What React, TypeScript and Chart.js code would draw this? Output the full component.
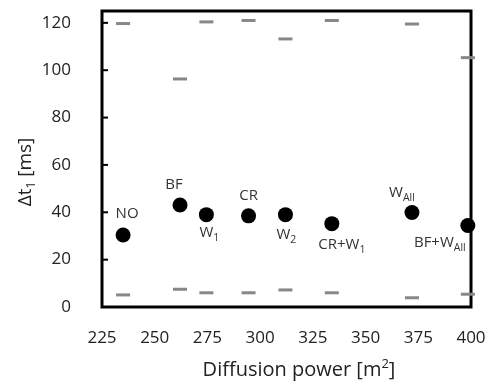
import React, { useEffect, useRef } from 'react';
import { Chart, registerables } from 'chart.js';

Chart.register(...registerables);

// ---- data ----
const groupNames = ['NO', 'BF', 'W', 'CR', 'W', 'CR+W', 'W', 'BF+W'];
const groupSubs = ['', '', '1', '', '2', '1', 'All', 'All'];
const diffusionPower = [235, 262, 274.5, 294.5, 312, 334, 372, 398.5];
const meanDelay = [30.4, 43.1, 39, 38.5, 39, 35.2, 39.9, 34.4];
const maxDelay = [119.7, 96.3, 120.4, 121, 113.2, 121, 119.5, 105.3];
const minDelay = [5.1, 7.5, 6, 6, 7.2, 6, 3.9, 5.4];
const xRange = [225, 400];
const xStep = 25;
const yRange = [0, 125];
const yStep = 20;
const xTitle = ['Diffusion power [m', '2', ']'];
const yTitle = ['\u0394t', '1', ' [ms]'];

// label placement relative to point (px): [dx, dy(baseline)]
const labelOffsets: [number, number][] = [
  [4, -17], [-6, -16], [3, 22], [0, -16], [1, 24], [10, 25], [-10, -16], [-28, 21],
];

const FONT = '"Open Sans", "DejaVu Sans", sans-serif';
const TEXT = '#222';

type Part = { t: string; size: number; dy: number };

function partsWidth(ctx: CanvasRenderingContext2D, parts: Part[]) {
  let w = 0;
  for (const p of parts) {
    ctx.font = `${p.size}px ${FONT}`;
    w += ctx.measureText(p.t).width;
  }
  return w;
}

function drawParts(ctx: CanvasRenderingContext2D, parts: Part[], cx: number, baseline: number) {
  const w = partsWidth(ctx, parts);
  let x = cx - w / 2;
  ctx.textAlign = 'left';
  ctx.textBaseline = 'alphabetic';
  for (const p of parts) {
    ctx.font = `${p.size}px ${FONT}`;
    ctx.fillText(p.t, x, baseline + p.dy);
    x += ctx.measureText(p.t).width;
  }
}

const decorPlugin = {
  id: 'decor',
  beforeDatasetsDraw(chart: any) {
    const { ctx, chartArea: a, scales } = chart;
    ctx.save();
    ctx.strokeStyle = '#000';
    ctx.lineWidth = 3;
    ctx.strokeRect(a.left, a.top, a.right - a.left, a.bottom - a.top);
    ctx.lineWidth = 2;
    for (const tk of scales.y.ticks) {
      const y = scales.y.getPixelForValue(tk.value);
      ctx.beginPath();
      ctx.moveTo(a.left, y);
      ctx.lineTo(a.left + 6, y);
      ctx.stroke();
    }
    ctx.restore();
  },
  afterDatasetsDraw(chart: any) {
    const { ctx, scales } = chart;
    ctx.save();
    ctx.fillStyle = '#333';
    groupNames.forEach((name, i) => {
      const px = scales.x.getPixelForValue(diffusionPower[i]);
      const py = scales.y.getPixelForValue(meanDelay[i]);
      const [dx, dy] = labelOffsets[i];
      const parts: Part[] = [{ t: name, size: 15, dy: 0 }];
      if (groupSubs[i]) parts.push({ t: groupSubs[i], size: 10.5, dy: 4 });
      drawParts(ctx, parts, px + dx, py + dy);
    });
    // axis titles
    ctx.fillStyle = TEXT;
    drawParts(
      ctx,
      [
        { t: xTitle[0], size: 20, dy: 0 },
        { t: xTitle[1], size: 13, dy: -8 },
        { t: xTitle[2], size: 20, dy: 0 },
      ],
      299,
      376
    );
    ctx.translate(31, 172);
    ctx.rotate(-Math.PI / 2);
    drawParts(
      ctx,
      [
        { t: yTitle[0], size: 19, dy: 0 },
        { t: yTitle[1], size: 12, dy: 4 },
        { t: yTitle[2], size: 19, dy: 0 },
      ],
      0,
      0
    );
    ctx.restore();
  },
};

const zeroPad = (s: any) => {
  s.paddingTop = 0;
  s.paddingBottom = 0;
  s.paddingLeft = 0;
  s.paddingRight = 0;
};

export default function App() {
  const ref = useRef<HTMLCanvasElement | null>(null);
  useEffect(() => {
    if (!ref.current) return;
    const chart = new Chart(ref.current, {
      type: 'scatter',
      data: {
        datasets: [
          {
            label: 'max',
            data: diffusionPower.map((x, i) => ({ x, y: maxDelay[i] })),
            pointStyle: 'line',
            radius: 7,
            borderWidth: 3,
            borderColor: '#878787',
            backgroundColor: '#878787',
            clip: false,
          } as any,
          {
            label: 'min',
            data: diffusionPower.map((x, i) => ({ x, y: minDelay[i] })),
            pointStyle: 'line',
            radius: 7,
            borderWidth: 3,
            borderColor: '#878787',
            backgroundColor: '#878787',
            clip: false,
          } as any,
          {
            label: 'mean',
            data: diffusionPower.map((x, i) => ({ x, y: meanDelay[i] })),
            pointStyle: 'circle',
            radius: 7.5,
            borderWidth: 0,
            backgroundColor: '#000',
            borderColor: '#000',
            clip: false,
          } as any,
        ],
      },
      options: {
        animation: false,
        responsive: false,
        devicePixelRatio: 1,
        layout: { padding: { top: 11, right: 15, left: 0, bottom: 0 } },
        plugins: { legend: { display: false }, tooltip: { enabled: false } },
        scales: {
          x: {
            type: 'linear',
            min: xRange[0],
            max: xRange[1],
            grid: { display: false },
            border: { display: false },
            ticks: {
              stepSize: xStep,
              padding: 13,
              color: TEXT,
              font: { family: FONT, size: 17 },
              maxRotation: 0,
            },
            afterFit: (s: any) => {
              s.height = 76;
              zeroPad(s);
            },
          },
          y: {
            type: 'linear',
            min: yRange[0],
            max: yRange[1],
            grid: { display: false },
            border: { display: false },
            ticks: {
              stepSize: yStep,
              includeBounds: false,
              padding: 23,
              color: TEXT,
              font: { family: FONT, size: 17 },
            },
            afterFit: (s: any) => {
              s.width = 102;
              zeroPad(s);
            },
          },
        },
      },
      plugins: [decorPlugin],
    });
    return () => chart.destroy();
  }, []);
  return (
    <div style={{ position: 'absolute', left: 0, top: 0, width: 486, height: 383, background: '#fff' }}>
      <canvas ref={ref} width={486} height={383} />
    </div>
  );
}
